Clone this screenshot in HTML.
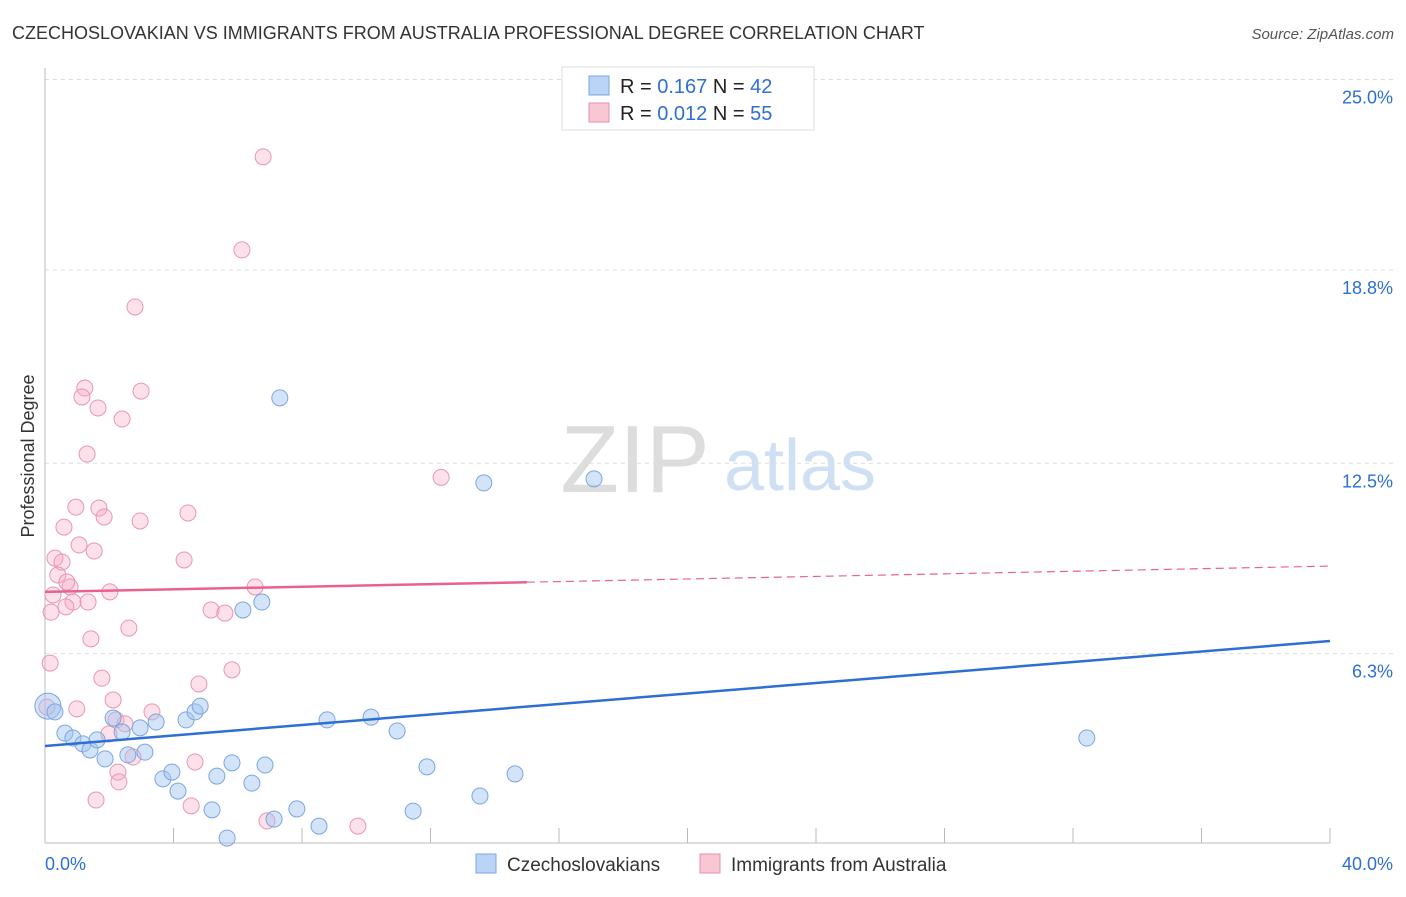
<!DOCTYPE html>
<html><head><meta charset="utf-8"><style>
body{margin:0;background:#fff;font-family:"Liberation Sans",sans-serif;}
svg text{font-family:"Liberation Sans",sans-serif;}
</style></head><body>
<svg id="c" width="1406" height="892" xmlns="http://www.w3.org/2000/svg">
<text x="12" y="39" font-size="18" fill="#333">CZECHOSLOVAKIAN VS IMMIGRANTS FROM AUSTRALIA PROFESSIONAL DEGREE CORRELATION CHART</text>
<text x="1394" y="39" font-size="15" fill="#555" font-style="italic" text-anchor="end">Source: ZipAtlas.com</text>
<text x="34" y="456" font-size="18" fill="#333" text-anchor="middle" transform="rotate(-90 34 456)">Professional Degree</text>
<text x="635" y="492" font-size="96" fill="#ddd" font-family="Liberation Serif" text-anchor="middle">ZIP</text>
<text x="800" y="490" font-size="72" fill="#cfe0f5" text-anchor="middle">atlas</text>
<g id="grid"></g><g id="pts"></g><g id="lines"></g>
<g>
<rect x="562" y="67" width="252" height="63" fill="#fff" stroke="#ddd"/>
<rect x="589" y="76" width="20" height="19" fill="#b9d4f6" stroke="#7aa6e0"/>
<text x="620" y="93" font-size="20" fill="#222">R = <tspan fill="#2d6fd3">0.167</tspan>   N = <tspan fill="#2d6fd3">42</tspan></text>
<rect x="589" y="103" width="20" height="19" fill="#f9c6d4" stroke="#e690aa"/>
<text x="620" y="120" font-size="20" fill="#222">R = <tspan fill="#2d6fd3">0.012</tspan>   N = <tspan fill="#2d6fd3">55</tspan></text>
</g>
<g>
<rect x="476" y="854" width="20" height="19" fill="#b9d4f6" stroke="#7aa6e0"/>
<text x="507" y="871" font-size="19" fill="#333">Czechoslovakians</text>
<rect x="700" y="854" width="20" height="19" fill="#f9c6d4" stroke="#e690aa"/>
<text x="731" y="871" font-size="19" fill="#333">Immigrants from Australia</text>
</g>
</svg>
<script>
const yTicks=[25.0,18.8,12.5,6.3];
const yTickLabels=["25.0%","18.8%","12.5%","6.3%"];
const xTickLabels=["0.0%","40.0%"];
const blueX=[0.09,0.31,0.62,0.87,1.18,1.4,1.62,1.87,2.12,2.4,2.58,2.96,3.11,3.46,3.67,3.95,4.14,4.39,4.67,4.83,5.2,5.35,5.67,5.82,6.16,6.44,6.75,6.85,7.13,7.31,7.84,8.53,8.78,10.15,10.96,11.46,11.89,13.54,13.66,14.63,17.09,32.43];
const blueY=[4.59,4.4,3.71,3.55,3.36,3.16,3.49,2.87,4.2,3.75,3.0,3.88,3.09,4.07,2.22,2.44,1.82,4.14,4.4,4.59,1.21,2.31,0.29,2.74,7.72,2.08,7.98,2.67,0.91,14.63,1.24,0.68,4.14,4.23,3.78,1.17,2.61,1.66,11.86,2.38,11.99,3.55];
const pinkX=[6.79,6.13,2.8,1.24,1.15,2.99,1.65,2.4,1.31,0.96,1.68,1.84,0.59,2.96,4.45,1.06,1.53,0.31,0.53,4.33,0.4,0.78,0.68,2.02,6.54,0.25,0.87,1.34,0.65,0.19,5.17,5.6,2.61,1.43,0.16,5.82,1.77,4.79,2.12,0.99,3.33,0.06,2.21,2.49,1.99,4.67,2.74,2.27,2.3,1.59,4.55,6.91,9.74,12.33];
const pinkY=[22.48,19.45,17.59,14.95,14.66,14.85,14.3,13.94,12.8,11.07,11.04,10.75,10.42,10.62,10.88,9.84,9.64,9.41,9.28,9.35,8.86,8.47,8.63,8.31,8.47,8.21,7.98,7.98,7.82,7.65,7.72,7.62,7.13,6.78,5.99,5.77,5.5,5.31,4.79,4.5,4.4,4.56,4.14,4.01,3.68,2.77,2.93,2.44,2.12,1.53,1.34,0.85,0.68,12.04];
const blueLine=[3.29,6.71], pinkLine=[8.31,9.15], pinkSolidEnd=15;
const NS="http://www.w3.org/2000/svg";
const X=v=>45+v*32.125, Y=v=>847-v*30.7;
function mk(t,a,p){const e=document.createElementNS(NS,t);for(const k in a)e.setAttribute(k,a[k]);p.appendChild(e);return e;}
const g=document.getElementById('grid');
yTicks.forEach((v,i)=>{
 const l=mk('line',{x1:45,x2:1393,y1:Y(v),y2:Y(v),stroke:'#ddd','stroke-dasharray':'4,4'},g);
 
 
 const t=mk('text',{x:1393,y:Y(v)+24,'font-size':18,fill:'#2d6fd3','text-anchor':'end'},g);t.textContent=yTickLabels[i];
 
 
});
const ax=mk('line',{x1:45,x2:1330,y1:843,y2:843,stroke:'#bbb'},g);


const ay=mk('line',{x1:45,x2:45,y1:68,y2:843,stroke:'#bbb'},g);


for(let i=0;i<=10;i++){const t=mk('line',{x1:X(i*4),x2:X(i*4),y1:828,y2:843,stroke:'#bbb'},g);
 
 }
[[0,'start',45],[40,'end',1393]].forEach((d,i)=>{const t=mk('text',{x:d[2],y:870,'font-size':18,fill:'#2d6fd3','text-anchor':d[1]},g);t.textContent=xTickLabels[i];
 
 });
const p=document.getElementById('pts');
pinkX.forEach((x,i)=>{const c=mk('circle',{cx:X(x),cy:Y(pinkY[i]),r:8,fill:'rgba(246,170,194,0.35)',stroke:'#e897b0','stroke-width':1},p);
 
 });
blueX.forEach((x,i)=>{const c=mk('circle',{cx:X(x),cy:Y(blueY[i]),r:i==0?13:8,fill:'rgba(160,196,240,0.45)',stroke:'#7aa6e0','stroke-width':1},p);
 
 });
const L=document.getElementById('lines');
const pl=v=>pinkLine[0]+(pinkLine[1]-pinkLine[0])*v/40;
const a=mk('line',{x1:X(0),y1:Y(pl(0)),x2:X(pinkSolidEnd),y2:Y(pl(pinkSolidEnd)),stroke:'#e8638c','stroke-width':2.5},L);


const b=mk('line',{x1:X(pinkSolidEnd),y1:Y(pl(pinkSolidEnd)),x2:X(40),y2:Y(pl(40)),stroke:'#e8638c','stroke-width':1.2,'stroke-dasharray':'8,5'},L);


const c=mk('line',{x1:X(0),y1:Y(blueLine[0]),x2:X(40),y2:Y(blueLine[1]),stroke:'#2d6fd3','stroke-width':2.5},L);


</script>
</body></html>
